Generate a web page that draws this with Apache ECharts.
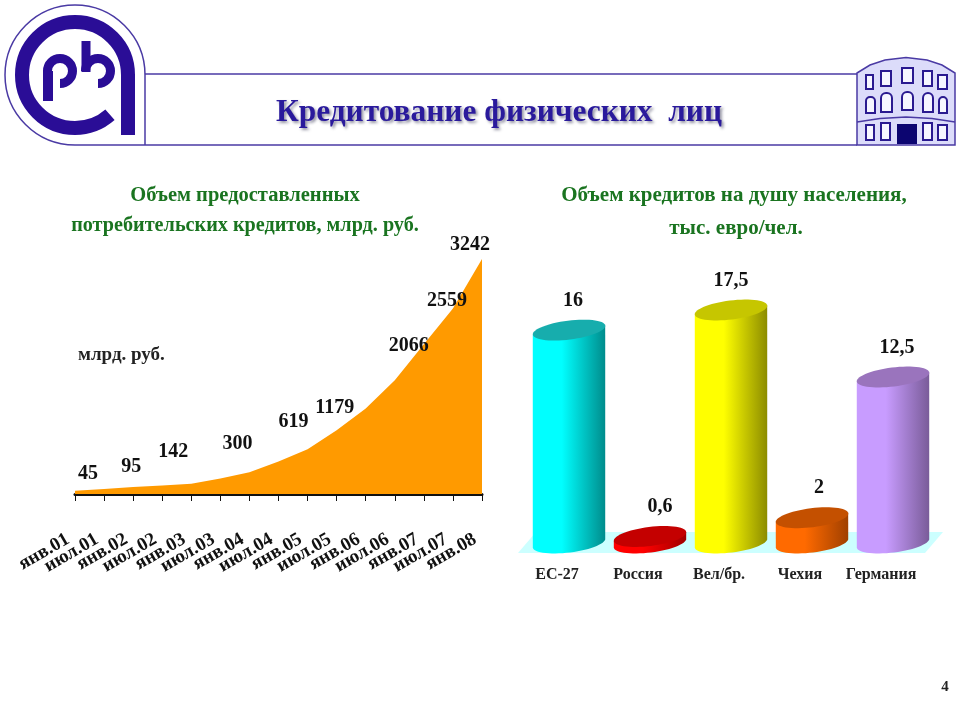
<!DOCTYPE html>
<html>
<head>
<meta charset="utf-8">
<title>Кредитование физических лиц</title>
<script src="https://cdn.jsdelivr.net/npm/echarts@6/dist/echarts.min.js"></script>
<style>
html, body { margin: 0; padding: 0; background: #fff; }
#main { width: 960px; height: 720px; }
</style>
</head>
<body>
<div id="main"></div>
<script>
// left chart
const months = ['янв.01', 'июл.01', 'янв.02', 'июл.02', 'янв.03', 'июл.03', 'янв.04', 'июл.04',
    'янв.05', 'июл.05', 'янв.06', 'июл.06', 'янв.07', 'июл.07', 'янв.08'];
const credits = [45, 70, 95, 118, 142, 215, 300, 450, 619, 880, 1179, 1570, 2066, 2559, 3242];
// only these points carry a label, [dx, dy] from the point
const labelShift = {
    0: [13, -17], 2: [-2, -20], 4: [-18, -32], 6: [-12, -28], 8: [-14, -27],
    10: [-31, -1], 12: [-15, 2], 13: [-6, -8], 14: [-12, -14]
};

// right chart
const countries = ['ЕС-27', 'Россия', 'Вел/бр.', 'Чехия', 'Германия'];
const perCapita = [16, 0.6, 17.5, 2, 12.5];
const sideColors = [['#00ffff', '#008c8c'], ['#ff0000', '#a00000'], ['#ffff00', '#8c8c00'],
    ['#ff6a00', '#a04000'], ['#c89cff', '#7a5c99']];
const topColors = ['#17adad', '#c40000', '#c6c600', '#c45000', '#9a74bd'];
const valueLabelDx = [4, 10, 0, 7, 4];

const serif = '"Liberation Serif", "DejaVu Serif", serif';
const ink = '#2a0d96';

function ellipsePoint(cx, cy, rx, ry, tilt, t) {
    let x = rx * Math.cos(t), y = ry * Math.sin(t);
    return [cx + x * Math.cos(tilt) - y * Math.sin(tilt), cy + x * Math.sin(tilt) + y * Math.cos(tilt)];
}

function ellipsePoints(cx, cy, rx, ry, tilt, from, to, n) {
    let pts = [];
    for (let i = 0; i <= n; i++) {
        pts.push(ellipsePoint(cx, cy, rx, ry, tilt, from + (to - from) * i / n));
    }
    return pts;
}

function renderCylinder(params, api) {
    let i = api.value(0);
    let v = api.value(1);
    let top = api.coord([i, v]);
    let base = api.coord([i, 0]);
    let cx = top[0];
    let rx = 36.5, ry = 9.5, tilt = -0.125;
    let body = ellipsePoints(cx, base[1] - 6, rx, ry, tilt, Math.PI, 0, 30);
    let left = ellipsePoint(cx, top[1] - 4.5, rx, ry, tilt, Math.PI);
    let right = ellipsePoint(cx, top[1] - 4.5, rx, ry, tilt, 0);
    return {
        type: 'group',
        children: [
            {
                type: 'polygon',
                shape: { points: [left].concat(body, [right]) },
                style: {
                    fill: new echarts.graphic.LinearGradient(0, 0, 1, 0, [
                        { offset: 0, color: sideColors[i][0] },
                        { offset: 0.4, color: sideColors[i][0] },
                        { offset: 1, color: sideColors[i][1] }
                    ])
                }
            },
            {
                type: 'polygon',
                shape: { points: ellipsePoints(cx, top[1] - 4.5, rx, ry, tilt, 0, Math.PI * 2, 60) },
                style: { fill: topColors[i] }
            },
            {
                type: 'text',
                x: cx + valueLabelDx[i],
                y: top[1] - 34,
                style: {
                    text: String(v).replace('.', ','),
                    font: 'bold 20px ' + serif,
                    fill: '#111',
                    align: 'center',
                    verticalAlign: 'middle'
                }
            }
        ]
    };
}

// logo and building are only decoration, drawn by hand
function line(x1, y1, x2, y2, w, color) {
    return { type: 'line', shape: { x1, y1, x2, y2 }, style: { stroke: color, lineWidth: w } };
}
function arc(cx, cy, r, a1, a2, w, cw) {
    return {
        type: 'arc', shape: { cx, cy, r, startAngle: a1, endAngle: a2, clockwise: !!cw },
        style: { stroke: ink, lineWidth: w, fill: null }
    };
}
function win(x1, y1, x2, y2, r) {
    return {
        type: 'rect', shape: { x: x1, y: y1, width: x2 - x1, height: y2 - y1, r: r || 0 },
        style: { fill: '#f6f6ff', stroke: '#2a1a90', lineWidth: 2 }
    };
}
const frame = '#4a3aa4';
let decor = [
    // header rules
    line(145, 74, 857, 74, 1.5, frame),
    line(75, 145, 857, 145, 1.5, frame),
    line(145, 75, 145, 145, 1.5, frame),
    { type: 'arc', shape: { cx: 75, cy: 75, r: 70, startAngle: 0, endAngle: Math.PI / 2, clockwise: false },
        style: { stroke: frame, lineWidth: 1.5, fill: null } },
    // logo
    arc(75, 75, 53, 0, 0.85, 14),
    line(128, 74, 128, 135, 14, ink),
    line(48, 71, 48, 101, 10, ink),
    arc(60, 71, 12.5, 1.57, 3.14, 9),
    line(86, 41, 86, 72, 9, ink),
    arc(98, 71, 12.5, 3.14, 1.57, 9, true),
    // building
    { type: 'polygon', shape: { points: [[857, 73], [870, 65], [885, 60], [906, 57.5], [927, 60], [942, 65], [955, 73], [955, 145], [857, 145]] },
        style: { fill: '#dcdcfa', stroke: frame, lineWidth: 1.5 } },
    { type: 'polyline', shape: { points: [[857, 122], [880, 118.5], [906, 117], [932, 118.5], [955, 122]] },
        style: { stroke: frame, lineWidth: 1.5, fill: null } },
    win(866, 75, 873, 89), win(881, 71, 891, 86), win(902, 68, 913, 83), win(923, 71, 932, 86), win(938, 75, 947, 89),
    win(866, 97, 875, 113, [4, 4, 0, 0]), win(881, 93, 892, 112, [5, 5, 0, 0]), win(902, 92, 913, 110, [5, 5, 0, 0]),
    win(923, 93, 933, 112, [5, 5, 0, 0]), win(939, 97, 947, 113, [4, 4, 0, 0]),
    win(866, 125, 874, 140), win(881, 123, 890, 140), win(923, 123, 932, 140), win(938, 125, 947, 140),
    { type: 'rect', shape: { x: 897, y: 124, width: 20, height: 20 }, style: { fill: '#0c0570' } },
    // floor under the cylinders
    { type: 'polygon', shape: { points: [[518, 553], [925, 553], [943, 532], [536, 532]] }, style: { fill: '#ccffff' } },
    // loose texts
    { type: 'text', x: 78, y: 355, style: { text: 'млрд. руб.', font: 'bold 19px ' + serif, fill: '#222', verticalAlign: 'middle' } },
    { type: 'text', x: 945, y: 687, style: { text: '4', font: 'bold 15px ' + serif, fill: '#222', align: 'center', verticalAlign: 'middle' } }
];

function subTitle(text, x, y, size) {
    return {
        text, left: x, top: y, textAlign: 'center',
        textStyle: { fontFamily: serif, fontWeight: 'bold', fontSize: size, color: '#1a7420' }
    };
}

var myChart = echarts.init(document.getElementById('main'));
myChart.setOption({
    animation: false,
    backgroundColor: '#fff',
    title: [
        {
            text: 'Кредитование физических  лиц', left: 494, top: 92, textAlign: 'center',
            textStyle: {
                fontFamily: serif, fontWeight: 'bold', fontSize: 31.4, color: '#2a1a9c',
                textShadowColor: 'rgba(60,60,90,0.55)', textShadowBlur: 3, textShadowOffsetX: 2, textShadowOffsetY: 2
            }
        },
        subTitle('Объем предоставленных', 240, 180, 20.5),
        subTitle('потребительских кредитов, млрд. руб.', 240, 211, 20.2),
        subTitle('Объем кредитов на душу населения,', 729, 180, 21),
        subTitle('тыс. евро/чел.', 731, 213, 21)
    ],
    graphic: { elements: decor },
    grid: [
        { left: 75, top: 259, width: 407, height: 235 },
        { left: 528.5, top: 281, width: 405, height: 268 }
    ],
    xAxis: [
        {
            type: 'category', gridIndex: 0, data: months, boundaryGap: false,
            axisLine: { lineStyle: { color: '#111', width: 3 } },
            axisTick: { show: true, interval: 0, length: 7, lineStyle: { color: '#111', width: 1 } },
            axisLabel: {
                interval: 0, rotate: 30, margin: 40, hideOverlap: false, padding: [0, 8, 0, 0],
                fontFamily: serif, fontWeight: 'bold', fontSize: 19, color: '#111'
            }
        },
        {
            type: 'category', gridIndex: 1, data: countries,
            axisLine: { show: false }, axisTick: { show: false },
            axisLabel: {
                interval: 0, margin: 18, padding: [0, 24, 0, 0],
                fontFamily: serif, fontWeight: 'bold', fontSize: 16, color: '#222'
            }
        }
    ],
    yAxis: [
        { type: 'value', gridIndex: 0, min: 0, max: 3242, show: false },
        { type: 'value', gridIndex: 1, min: 0, max: 20, show: false }
    ],
    series: [
        {
            type: 'line', xAxisIndex: 0, yAxisIndex: 0,
            data: credits.map((v, i) => ({
                value: v,
                label: labelShift[i]
                    ? { show: true, position: 'inside', offset: labelShift[i] }
                    : { show: false }
            })),
            showSymbol: true, symbol: 'circle', symbolSize: 1,
            itemStyle: { color: 'rgba(0,0,0,0)' },
            lineStyle: { width: 0 },
            areaStyle: { color: '#ff9a00', opacity: 1 },
            label: { fontFamily: serif, fontWeight: 'bold', fontSize: 20, color: '#111' }
        },
        {
            type: 'custom', xAxisIndex: 1, yAxisIndex: 1,
            renderItem: renderCylinder,
            data: perCapita.map((v, i) => [i, v])
        }
    ]
});
</script>
</body>
</html>
